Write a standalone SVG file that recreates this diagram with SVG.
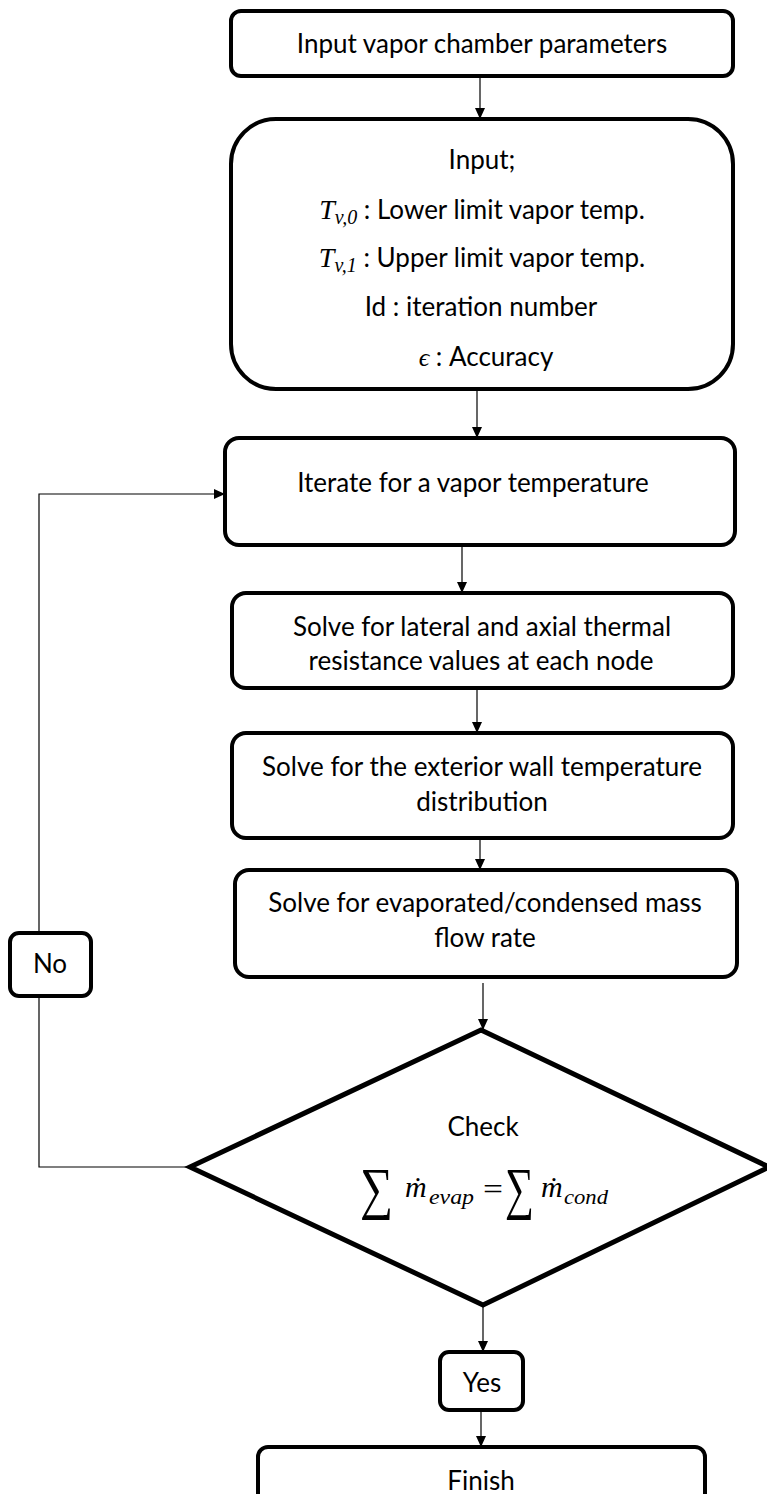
<svg xmlns="http://www.w3.org/2000/svg" width="767" height="1494" viewBox="0 0 767 1494">
<defs>
<marker id="ah" markerUnits="userSpaceOnUse" markerWidth="12" markerHeight="10" refX="11" refY="5" orient="auto">
<path d="M0,0 L11,5 L0,10 z" fill="#000"/>
</marker>
<style>
.box{fill:#fff;stroke:#000;stroke-width:4}
.dia{fill:#fff;stroke:#000;stroke-width:5;stroke-linejoin:miter}
.t{font-family:Lato,"Open Sans","Liberation Sans",sans-serif;font-size:26px;fill:#000;text-anchor:middle}
.m{font-family:"Liberation Serif","DejaVu Serif",serif;font-style:italic;fill:#000}
.s{font-family:"Liberation Serif","DejaVu Serif",serif;font-style:normal;fill:#000}
.c{fill:none;stroke:#000;stroke-width:1.2}
</style>
</defs>
<rect width="767" height="1494" fill="#fff"/>
<g id="connectors">
<line class="c" x1="480" y1="76" x2="480" y2="119" marker-end="url(#ah)"/>
<line class="c" x1="477" y1="389" x2="477" y2="438" marker-end="url(#ah)"/>
<line class="c" x1="462" y1="545" x2="462" y2="593" marker-end="url(#ah)"/>
<line class="c" x1="477" y1="688" x2="477" y2="733" marker-end="url(#ah)"/>
<line class="c" x1="480" y1="838" x2="480" y2="870" marker-end="url(#ah)"/>
<line class="c" x1="483" y1="983" x2="483" y2="1030" marker-end="url(#ah)"/>
<line class="c" x1="483" y1="1305" x2="483" y2="1352" marker-end="url(#ah)"/>
<line class="c" x1="481" y1="1410" x2="481" y2="1447" marker-end="url(#ah)"/>
<polyline class="c" points="190,1167 39,1167 39,996"/>
<polyline class="c" points="39,933 39,494 225,494" marker-end="url(#ah)"/>
</g>
<g id="n1"><rect class="box" x="231" y="11" width="502" height="65" rx="10"/>
<text class="t" x="482" y="53">Input vapor chamber parameters</text></g>
<g id="n2"><rect class="box" x="231" y="119" width="502" height="270" rx="45"/>
<text class="t" x="482" y="169">Input;</text>
<text class="t" x="482" y="219"><tspan class="m" font-size="28">T</tspan><tspan class="m" font-size="20" dy="5">v,0</tspan><tspan dy="-5"> : Lower limit vapor temp.</tspan></text>
<text class="t" x="482" y="267"><tspan class="m" font-size="28">T</tspan><tspan class="m" font-size="20" dy="5">v,1</tspan><tspan dy="-5"> : Upper limit vapor temp.</tspan></text>
<text class="t" x="481" y="316">Id : iteration number</text>
<text class="t" x="486" y="366"><tspan class="m">ϵ</tspan> : Accuracy</text></g>
<g id="n3"><rect class="box" x="225" y="438" width="510" height="107" rx="14"/>
<text class="t" x="473" y="492">Iterate for a vapor temperature</text></g>
<g id="n4"><rect class="box" x="232" y="593" width="501" height="95" rx="14"/>
<text class="t" x="482" y="636">Solve for lateral and axial thermal</text>
<text class="t" x="481" y="670">resistance values at each node</text></g>
<g id="n5"><rect class="box" x="232" y="733" width="501" height="105" rx="14"/>
<text class="t" x="482" y="776">Solve for the exterior wall temperature</text>
<text class="t" x="482" y="811">distribution</text></g>
<g id="n6"><rect class="box" x="235" y="870" width="502" height="107" rx="14"/>
<text class="t" x="485" y="912">Solve for evaporated/condensed mass</text>
<text class="t" x="485" y="947">flow rate</text></g>
<g id="no"><rect class="box" x="10" y="933" width="81" height="63" rx="9"/>
<text class="t" x="50" y="973">No</text></g>
<g id="check"><polygon class="dia" points="481,1030 769,1167 483,1305 190,1167"/>
<text class="t" x="483" y="1136">Check</text>
<text class="s" transform="translate(360 1208) scale(0.8 1)" font-size="58">∑</text>
<text class="m" x="405" y="1197" font-size="30">ṁ</text>
<text class="m" x="429" y="1204" font-size="22" textLength="45" lengthAdjust="spacingAndGlyphs">evap</text>
<text class="s" x="483" y="1199" font-size="30" textLength="20" lengthAdjust="spacingAndGlyphs">=</text>
<text class="s" transform="translate(505 1208) scale(0.7 1)" font-size="58">∑</text>
<text class="m" x="541" y="1197" font-size="30">ṁ</text>
<text class="m" x="564" y="1204" font-size="22" textLength="44" lengthAdjust="spacingAndGlyphs">cond</text></g>
<g id="yes"><rect class="box" x="440" y="1352" width="83" height="58" rx="9"/>
<text class="t" x="482" y="1392">Yes</text></g>
<g id="finish"><rect class="box" x="258" y="1447" width="447" height="70" rx="10"/>
<text class="t" x="481" y="1490" font-size="23">Finish</text></g>
</svg>
